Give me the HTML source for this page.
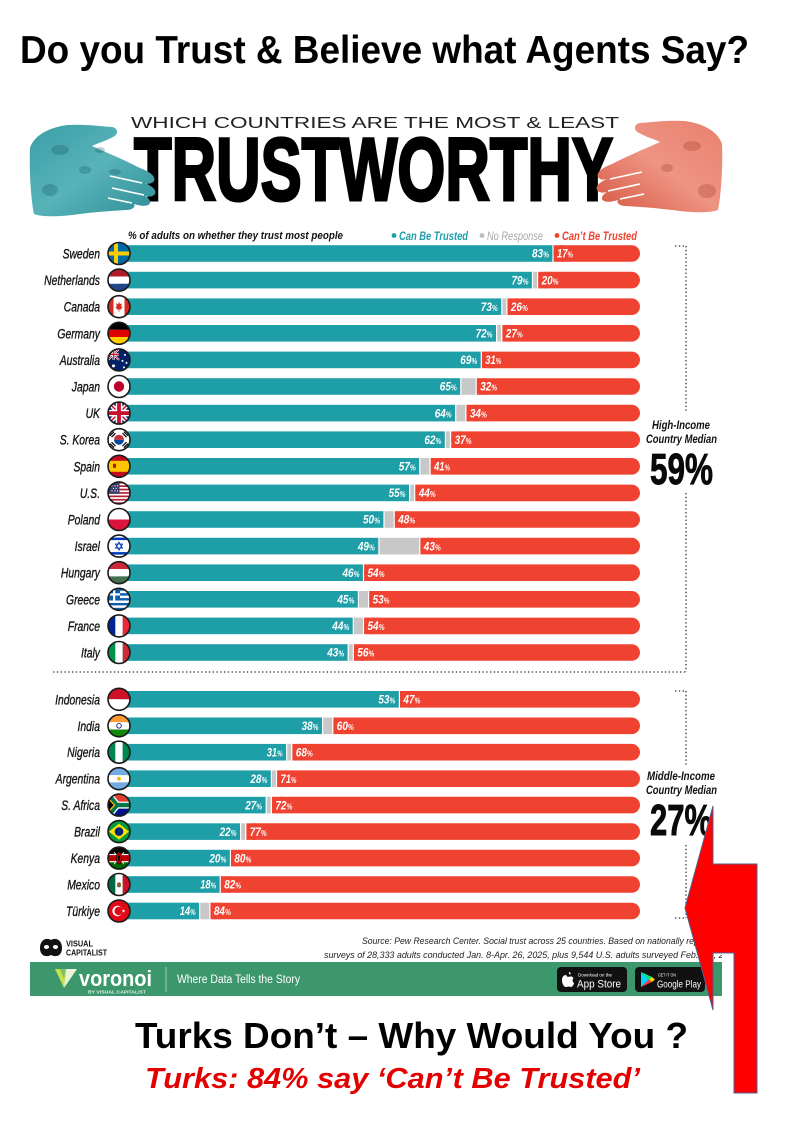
<!DOCTYPE html>
<html>
<head>
<meta charset="utf-8">
<style>
html,body{margin:0;padding:0;background:#fff;}
body{width:794px;height:1123px;overflow:hidden;}
svg{display:block;}
.t{fill:#1e9ea7}
.g{fill:#c8c8c8}
.r{fill:#ef4230}
.pl{font-family:"Liberation Sans",sans-serif;font-style:italic;font-weight:bold;font-size:12px;fill:#fff}
.cl{font-family:"Liberation Sans",sans-serif;font-style:italic;font-size:14px;fill:#151515;stroke:#151515;stroke-width:0.35}
.ol{fill:none;stroke:#1a1a1a;stroke-width:1.6}
.dot{fill:none;stroke:#333;stroke-width:1.3;stroke-dasharray:1.4 2.4}
.med{font-family:"Liberation Sans",sans-serif;font-style:italic;font-weight:bold;font-size:12px;fill:#111}
.big{font-family:"Liberation Sans",sans-serif;font-weight:bold;font-size:44px;fill:#0a0a0a;stroke:#0a0a0a;stroke-width:0.9}
</style>
</head>
<body>
<svg width="794" height="1123" viewBox="0 0 794 1123" xmlns="http://www.w3.org/2000/svg">
<defs>
  <clipPath id="cc"><circle r="11"/></clipPath>
  <clipPath id="ig"><rect x="0" y="0" width="722" height="1123"/></clipPath>
  <linearGradient id="tg" x1="0" y1="0" x2="1" y2="1">
    <stop offset="0" stop-color="#3b9ea6"/><stop offset="0.5" stop-color="#58b3b9"/><stop offset="1" stop-color="#2e8d95"/>
  </linearGradient>
  <linearGradient id="rg" x1="0" y1="0" x2="1" y2="1">
    <stop offset="0" stop-color="#e9806d"/><stop offset="0.5" stop-color="#ee9483"/><stop offset="1" stop-color="#d55641"/>
  </linearGradient>
  <g id="hand">
    <path d="M30,148 C34,135 50,127 68,125 C82,124 100,126 112,127 C118,128 119,134 113,137 C106,141 98,143 92,146 C105,152 125,160 140,168 C150,172 156,176 154,181 C152,184 148,184 145,183 C152,186 157,190 155,194 C153,197 148,197 145,196 C150,199 152,203 148,205 C143,207 138,205 134,204 C136,207 132,210 126,210 C110,211 95,212 80,214 C65,216 45,218 34,214 C31,200 29,170 30,148 Z"/>
    <path d="M110,176 L142,183 M112,188 L144,195 M108,198 L132,203" stroke="#fff" stroke-width="1.6" fill="none"/>
  </g>

  <g id="f-se" clip-path="url(#cc)"><rect x="-11" y="-11" width="22" height="22" fill="#006aa7"/><rect x="-5" y="-11" width="4" height="22" fill="#fecc00"/><rect x="-11" y="-2" width="22" height="4" fill="#fecc00"/></g>
  <g id="f-nl" clip-path="url(#cc)"><rect x="-11" y="-11" width="22" height="7.4" fill="#ae1c28"/><rect x="-11" y="-3.6" width="22" height="7.3" fill="#fff"/><rect x="-11" y="3.7" width="22" height="7.3" fill="#21468b"/></g>
  <g id="f-ca" clip-path="url(#cc)"><rect x="-11" y="-11" width="22" height="22" fill="#fff"/><rect x="-11" y="-11" width="5.5" height="22" fill="#d52b1e"/><rect x="5.5" y="-11" width="5.5" height="22" fill="#d52b1e"/><polygon points="0,-5 1,-2.5 3,-3.5 2.2,0 4,0 2,2 2.5,3 0.4,2.6 0.4,5 -0.4,5 -0.4,2.6 -2.5,3 -2,2 -4,0 -2.2,0 -3,-3.5 -1,-2.5" fill="#d52b1e"/></g>
  <g id="f-de" clip-path="url(#cc)"><rect x="-11" y="-11" width="22" height="7.4" fill="#000"/><rect x="-11" y="-3.6" width="22" height="7.3" fill="#dd0000"/><rect x="-11" y="3.7" width="22" height="7.3" fill="#ffce00"/></g>
  <g id="f-au" clip-path="url(#cc)"><rect x="-11" y="-11" width="22" height="22" fill="#012169"/><path d="M-11,-11 L0,0 M0,-11 L-11,0" stroke="#fff" stroke-width="2"/><path d="M-11,-11 L0,0 M0,-11 L-11,0" stroke="#c8102e" stroke-width="0.8"/><rect x="-6.5" y="-11" width="2.4" height="11" fill="#fff"/><rect x="-11" y="-6.7" width="11" height="2.4" fill="#fff"/><rect x="-5.9" y="-11" width="1.2" height="11" fill="#c8102e"/><rect x="-11" y="-6.1" width="11" height="1.2" fill="#c8102e"/><circle cx="-5.5" cy="6" r="1.5" fill="#fff"/><circle cx="6" cy="-5" r="1" fill="#fff"/><circle cx="3.5" cy="1" r="1" fill="#fff"/><circle cx="7.5" cy="3" r="1" fill="#fff"/><circle cx="5" cy="7.5" r="1" fill="#fff"/></g>
  <g id="f-jp" clip-path="url(#cc)"><rect x="-11" y="-11" width="22" height="22" fill="#fff"/><circle r="5.2" fill="#bc002d"/></g>
  <g id="f-gb" clip-path="url(#cc)"><rect x="-11" y="-11" width="22" height="22" fill="#012169"/><path d="M-11,-11 L11,11 M11,-11 L-11,11" stroke="#fff" stroke-width="4.5"/><path d="M-11,-11 L11,11 M11,-11 L-11,11" stroke="#c8102e" stroke-width="1.5"/><rect x="-3.3" y="-11" width="6.6" height="22" fill="#fff"/><rect x="-11" y="-3.3" width="22" height="6.6" fill="#fff"/><rect x="-1.9" y="-11" width="3.8" height="22" fill="#c8102e"/><rect x="-11" y="-1.9" width="22" height="3.8" fill="#c8102e"/></g>
  <g id="f-kr" clip-path="url(#cc)"><rect x="-11" y="-11" width="22" height="22" fill="#fff"/><path d="M-5,0 A5,5 0 0 1 5,0 Z" fill="#cd2e3a"/><path d="M-5,0 A5,5 0 0 0 5,0 Z" fill="#0047a0"/><g stroke="#000" stroke-width="1.2"><path d="M-9,-4 L-5,-8 M-7.5,-2.5 L-3.5,-6.5"/><path d="M9,-4 L5,-8 M7.5,-2.5 L3.5,-6.5"/><path d="M-9,4 L-5,8 M-7.5,2.5 L-3.5,6.5"/><path d="M9,4 L5,8 M7.5,2.5 L3.5,6.5"/></g></g>
  <g id="f-es" clip-path="url(#cc)"><rect x="-11" y="-11" width="22" height="22" fill="#c60b1e"/><rect x="-11" y="-5.5" width="22" height="11" fill="#ffc400"/><rect x="-6" y="-2.5" width="3" height="4" fill="#ad1519"/></g>
  <g id="f-us" clip-path="url(#cc)"><rect x="-11" y="-11" width="22" height="22" fill="#fff"/><g fill="#b22234"><rect x="-11" y="-11" width="22" height="1.7"/><rect x="-11" y="-7.6" width="22" height="1.7"/><rect x="-11" y="-4.2" width="22" height="1.7"/><rect x="-11" y="-0.8" width="22" height="1.7"/><rect x="-11" y="2.6" width="22" height="1.7"/><rect x="-11" y="6" width="22" height="1.7"/><rect x="-11" y="9.4" width="22" height="1.7"/></g><rect x="-11" y="-11" width="11.5" height="11.9" fill="#3c3b6e"/><g fill="#fff"><circle cx="-7" cy="-7" r="0.6"/><circle cx="-4" cy="-7" r="0.6"/><circle cx="-1.5" cy="-7" r="0.6"/><circle cx="-5.5" cy="-4.5" r="0.6"/><circle cx="-2.8" cy="-4.5" r="0.6"/><circle cx="-7" cy="-2" r="0.6"/><circle cx="-4" cy="-2" r="0.6"/><circle cx="-1.5" cy="-2" r="0.6"/></g></g>
  <g id="f-pl" clip-path="url(#cc)"><rect x="-11" y="-11" width="22" height="11" fill="#fff"/><rect x="-11" y="0" width="22" height="11" fill="#dc143c"/></g>
  <g id="f-il" clip-path="url(#cc)"><rect x="-11" y="-11" width="22" height="22" fill="#fff"/><rect x="-11" y="-8.5" width="22" height="2.5" fill="#0038b8"/><rect x="-11" y="6" width="22" height="2.5" fill="#0038b8"/><polygon points="0,-4 3.5,2 -3.5,2" fill="none" stroke="#0038b8" stroke-width="0.9"/><polygon points="0,4 3.5,-2 -3.5,-2" fill="none" stroke="#0038b8" stroke-width="0.9"/></g>
  <g id="f-hu" clip-path="url(#cc)"><rect x="-11" y="-11" width="22" height="7.4" fill="#ce2939"/><rect x="-11" y="-3.6" width="22" height="7.3" fill="#fff"/><rect x="-11" y="3.7" width="22" height="7.3" fill="#477050"/></g>
  <g id="f-gr" clip-path="url(#cc)"><rect x="-11" y="-11" width="22" height="22" fill="#0d5eaf"/><g fill="#fff"><rect x="-11" y="-8.56" width="22" height="2.44"/><rect x="-11" y="-3.67" width="22" height="2.44"/><rect x="-11" y="1.22" width="22" height="2.44"/><rect x="-11" y="6.11" width="22" height="2.44"/></g><rect x="-11" y="-11" width="12" height="12.2" fill="#0d5eaf"/><rect x="-6" y="-11" width="2.2" height="12.2" fill="#fff"/><rect x="-11" y="-6" width="12" height="2.2" fill="#fff"/></g>
  <g id="f-fr" clip-path="url(#cc)"><rect x="-11" y="-11" width="7.4" height="22" fill="#002395"/><rect x="-3.6" y="-11" width="7.3" height="22" fill="#fff"/><rect x="3.7" y="-11" width="7.3" height="22" fill="#ed2939"/></g>
  <g id="f-it" clip-path="url(#cc)"><rect x="-11" y="-11" width="7.4" height="22" fill="#009246"/><rect x="-3.6" y="-11" width="7.3" height="22" fill="#fff"/><rect x="3.7" y="-11" width="7.3" height="22" fill="#ce2b37"/></g>
  <g id="f-id" clip-path="url(#cc)"><rect x="-11" y="-11" width="22" height="11" fill="#ce1126"/><rect x="-11" y="0" width="22" height="11" fill="#fff"/></g>
  <g id="f-in" clip-path="url(#cc)"><rect x="-11" y="-11" width="22" height="7.4" fill="#ff9933"/><rect x="-11" y="-3.6" width="22" height="7.3" fill="#fff"/><rect x="-11" y="3.7" width="22" height="7.3" fill="#138808"/><circle r="2.3" fill="none" stroke="#000080" stroke-width="0.8"/></g>
  <g id="f-ng" clip-path="url(#cc)"><rect x="-11" y="-11" width="7.4" height="22" fill="#008751"/><rect x="-3.6" y="-11" width="7.3" height="22" fill="#fff"/><rect x="3.7" y="-11" width="7.3" height="22" fill="#008751"/></g>
  <g id="f-ar" clip-path="url(#cc)"><rect x="-11" y="-11" width="22" height="7.4" fill="#74acdf"/><rect x="-11" y="-3.6" width="22" height="7.3" fill="#fff"/><rect x="-11" y="3.7" width="22" height="7.3" fill="#74acdf"/><circle r="1.9" fill="#f6b40e"/></g>
  <g id="f-za" clip-path="url(#cc)"><rect x="-11" y="-11" width="22" height="11" fill="#e03c31"/><rect x="-11" y="0" width="22" height="11" fill="#001489"/><path d="M-11,-11 L-2,0 L11,0 M-11,11 L-2,0" stroke="#fff" stroke-width="7" fill="none"/><path d="M-11,-11 L-2,0 L11,0 M-11,11 L-2,0" stroke="#007749" stroke-width="4.4" fill="none"/><polygon points="-11,-7 -4.5,0 -11,7" fill="#000" stroke="#ffb612" stroke-width="1.3"/></g>
  <g id="f-br" clip-path="url(#cc)"><rect x="-11" y="-11" width="22" height="22" fill="#009c3b"/><polygon points="0,-8 10,0 0,8 -10,0" fill="#ffdf00"/><circle r="4.3" fill="#002776"/></g>
  <g id="f-ke" clip-path="url(#cc)"><rect x="-11" y="-11" width="22" height="22" fill="#006600"/><rect x="-11" y="-11" width="22" height="6.8" fill="#000"/><rect x="-11" y="-4.2" width="22" height="8.4" fill="#fff"/><rect x="-11" y="-3" width="22" height="6" fill="#bb0000"/><path d="M-5,-6 L5,6 M5,-6 L-5,6" stroke="#fff" stroke-width="0.8"/><ellipse rx="2.8" ry="6" fill="#bb0000" stroke="#000" stroke-width="0.6"/><ellipse rx="1" ry="3" fill="#000"/></g>
  <g id="f-mx" clip-path="url(#cc)"><rect x="-11" y="-11" width="7.4" height="22" fill="#006847"/><rect x="-3.6" y="-11" width="7.3" height="22" fill="#fff"/><rect x="3.7" y="-11" width="7.3" height="22" fill="#ce1126"/><circle r="2.1" fill="#8b5a2b"/><path d="M-2,1.5 Q0,3.5 2,1.5" stroke="#2e7d32" stroke-width="0.7" fill="none"/></g>
  <g id="f-tr" clip-path="url(#cc)"><rect x="-11" y="-11" width="22" height="22" fill="#e30a17"/><circle cx="-1.5" cy="0" r="5.2" fill="#fff"/><circle cx="-0.3" cy="0" r="4.2" fill="#e30a17"/><polygon points="4.5,-2 4.97,-0.65 6.4,-0.62 5.26,0.25 5.68,1.62 4.5,0.8 3.32,1.62 3.74,0.25 2.6,-0.62 4.03,-0.65" fill="#fff"/></g>
</defs>

<rect x="0" y="0" width="794" height="1123" fill="#fff"/>

<!-- Main title -->
<text x="20" y="63" font-family="Liberation Sans, Arial, sans-serif" font-weight="bold" font-size="38.5" fill="#000" textLength="729" lengthAdjust="spacingAndGlyphs">Do you Trust &amp; Believe what Agents Say?</text>

<!-- Infographic header -->
<text x="131" y="128" font-family="Liberation Sans, sans-serif" font-size="16" fill="#222" textLength="488" lengthAdjust="spacingAndGlyphs">WHICH COUNTRIES ARE THE MOST &amp; LEAST</text>
<text x="134" y="200" font-family="Liberation Sans, sans-serif" font-weight="bold" font-size="89" fill="#000" stroke="#000" stroke-width="3" stroke-linejoin="miter" textLength="479" lengthAdjust="spacingAndGlyphs">TRUSTWORTHY</text>

<use href="#hand" fill="url(#tg)"/>
<g opacity="0.25" fill="#0c4b52">
  <ellipse cx="60" cy="150" rx="9" ry="5"/><ellipse cx="85" cy="170" rx="6" ry="4"/><ellipse cx="50" cy="190" rx="8" ry="6"/><ellipse cx="100" cy="150" rx="5" ry="3"/><ellipse cx="115" cy="172" rx="6" ry="3"/>
</g>
<g transform="translate(752,-4) scale(-1,1)">
  <use href="#hand" fill="url(#rg)"/>
  <g opacity="0.22" fill="#8a1d10">
    <ellipse cx="60" cy="150" rx="9" ry="5"/><ellipse cx="85" cy="172" rx="6" ry="4"/><ellipse cx="45" cy="195" rx="9" ry="7"/>
  </g>
</g>

<!-- Subtitle & legend -->
<text x="128" y="239" font-family="Liberation Sans, sans-serif" font-style="italic" font-weight="bold" font-size="11" fill="#111" textLength="215" lengthAdjust="spacingAndGlyphs">% of adults on whether they trust most people</text>
<circle cx="394" cy="235.5" r="2.4" fill="#1e9ea7"/>
<text x="399" y="240" font-family="Liberation Sans, sans-serif" font-style="italic" font-weight="bold" font-size="12" fill="#1e9ea7" textLength="69" lengthAdjust="spacingAndGlyphs">Can Be Trusted</text>
<circle cx="482" cy="235.5" r="2.4" fill="#bdbdbd"/>
<text x="487" y="240" font-family="Liberation Sans, sans-serif" font-style="italic" font-size="12" fill="#a8a8a8" textLength="56" lengthAdjust="spacingAndGlyphs">No Response</text>
<circle cx="557" cy="235.5" r="2.4" fill="#ef4230"/>
<text x="562" y="240" font-family="Liberation Sans, sans-serif" font-style="italic" font-weight="bold" font-size="12" fill="#ef4230" textLength="75" lengthAdjust="spacingAndGlyphs">Can’t Be Trusted</text>

<!-- Bars: high income -->
<g>
<rect class="t" x="118" y="245.2" width="434.4" height="16.6"/><rect class="r" x="553.6" y="245.2" width="86.4" height="16.6" rx="8.3"/><rect class="r" x="553.6" y="245.2" width="10" height="16.6"/>
<rect class="t" x="118" y="271.8" width="413.9" height="16.6"/><rect class="g" x="533.1" y="271.8" width="3.9" height="16.6"/><rect class="r" x="538.2" y="271.8" width="101.8" height="16.6" rx="8.3"/><rect class="r" x="538.2" y="271.8" width="10" height="16.6"/>
<rect class="t" x="118" y="298.4" width="383.2" height="16.6"/><rect class="g" x="502.4" y="298.4" width="3.9" height="16.6"/><rect class="r" x="507.5" y="298.4" width="132.5" height="16.6" rx="8.3"/><rect class="r" x="507.5" y="298.4" width="10" height="16.6"/>
<rect class="t" x="118" y="325" width="378" height="16.6"/><rect class="g" x="497.2" y="325" width="3.9" height="16.6"/><rect class="r" x="502.4" y="325" width="137.6" height="16.6" rx="8.3"/><rect class="r" x="502.4" y="325" width="10" height="16.6"/>
<rect class="t" x="118" y="351.6" width="362.7" height="16.6"/><rect class="r" x="481.9" y="351.6" width="158.1" height="16.6" rx="8.3"/><rect class="r" x="481.9" y="351.6" width="10" height="16.6"/>
<rect class="t" x="118" y="378.2" width="342.2" height="16.6"/><rect class="g" x="461.4" y="378.2" width="14.2" height="16.6"/><rect class="r" x="476.8" y="378.2" width="163.2" height="16.6" rx="8.3"/><rect class="r" x="476.8" y="378.2" width="10" height="16.6"/>
<rect class="t" x="118" y="404.8" width="337.1" height="16.6"/><rect class="g" x="456.3" y="404.8" width="9" height="16.6"/><rect class="r" x="466.5" y="404.8" width="173.5" height="16.6" rx="8.3"/><rect class="r" x="466.5" y="404.8" width="10" height="16.6"/>
<rect class="t" x="118" y="431.4" width="326.8" height="16.6"/><rect class="g" x="446" y="431.4" width="3.9" height="16.6"/><rect class="r" x="451.2" y="431.4" width="188.8" height="16.6" rx="8.3"/><rect class="r" x="451.2" y="431.4" width="10" height="16.6"/>
<rect class="t" x="118" y="458" width="301.2" height="16.6"/><rect class="g" x="420.4" y="458" width="9" height="16.6"/><rect class="r" x="430.7" y="458" width="209.3" height="16.6" rx="8.3"/><rect class="r" x="430.7" y="458" width="10" height="16.6"/>
<rect class="t" x="118" y="484.6" width="291" height="16.6"/><rect class="g" x="410.2" y="484.6" width="3.9" height="16.6"/><rect class="r" x="415.3" y="484.6" width="224.7" height="16.6" rx="8.3"/><rect class="r" x="415.3" y="484.6" width="10" height="16.6"/>
<rect class="t" x="118" y="511.2" width="265.4" height="16.6"/><rect class="g" x="384.6" y="511.2" width="9" height="16.6"/><rect class="r" x="394.8" y="511.2" width="245.2" height="16.6" rx="8.3"/><rect class="r" x="394.8" y="511.2" width="10" height="16.6"/>
<rect class="t" x="118" y="537.8" width="260.3" height="16.6"/><rect class="g" x="379.5" y="537.8" width="39.7" height="16.6"/><rect class="r" x="420.4" y="537.8" width="219.6" height="16.6" rx="8.3"/><rect class="r" x="420.4" y="537.8" width="10" height="16.6"/>
<rect class="t" x="118" y="564.4" width="244.9" height="16.6"/><rect class="r" x="364.1" y="564.4" width="275.9" height="16.6" rx="8.3"/><rect class="r" x="364.1" y="564.4" width="10" height="16.6"/>
<rect class="t" x="118" y="591" width="239.8" height="16.6"/><rect class="g" x="359" y="591" width="9" height="16.6"/><rect class="r" x="369.2" y="591" width="270.8" height="16.6" rx="8.3"/><rect class="r" x="369.2" y="591" width="10" height="16.6"/>
<rect class="t" x="118" y="617.6" width="234.7" height="16.6"/><rect class="g" x="353.9" y="617.6" width="9" height="16.6"/><rect class="r" x="364.1" y="617.6" width="275.9" height="16.6" rx="8.3"/><rect class="r" x="364.1" y="617.6" width="10" height="16.6"/>
<rect class="t" x="118" y="644.2" width="229.6" height="16.6"/><rect class="g" x="348.8" y="644.2" width="3.9" height="16.6"/><rect class="r" x="353.9" y="644.2" width="286.1" height="16.6" rx="8.3"/><rect class="r" x="353.9" y="644.2" width="10" height="16.6"/>
</g>

<!-- Bars: middle income -->
<g>
<rect class="t" x="118" y="691" width="280.8" height="16.6"/><rect class="r" x="400" y="691" width="240" height="16.6" rx="8.3"/><rect class="r" x="400" y="691" width="10" height="16.6"/>
<rect class="t" x="118" y="717.5" width="204" height="16.6"/><rect class="g" x="323.2" y="717.5" width="9" height="16.6"/><rect class="r" x="333.4" y="717.5" width="306.6" height="16.6" rx="8.3"/><rect class="r" x="333.4" y="717.5" width="10" height="16.6"/>
<rect class="t" x="118" y="743.9" width="168.1" height="16.6"/><rect class="g" x="287.3" y="743.9" width="3.9" height="16.6"/><rect class="r" x="292.4" y="743.9" width="347.6" height="16.6" rx="8.3"/><rect class="r" x="292.4" y="743.9" width="10" height="16.6"/>
<rect class="t" x="118" y="770.4" width="152.8" height="16.6"/><rect class="g" x="272" y="770.4" width="3.9" height="16.6"/><rect class="r" x="277.1" y="770.4" width="362.9" height="16.6" rx="8.3"/><rect class="r" x="277.1" y="770.4" width="10" height="16.6"/>
<rect class="t" x="118" y="796.8" width="147.6" height="16.6"/><rect class="g" x="266.8" y="796.8" width="3.9" height="16.6"/><rect class="r" x="272" y="796.8" width="368" height="16.6" rx="8.3"/><rect class="r" x="272" y="796.8" width="10" height="16.6"/>
<rect class="t" x="118" y="823.3" width="122" height="16.6"/><rect class="g" x="241.2" y="823.3" width="3.9" height="16.6"/><rect class="r" x="246.4" y="823.3" width="393.6" height="16.6" rx="8.3"/><rect class="r" x="246.4" y="823.3" width="10" height="16.6"/>
<rect class="t" x="118" y="849.8" width="111.8" height="16.6"/><rect class="r" x="231" y="849.8" width="409" height="16.6" rx="8.3"/><rect class="r" x="231" y="849.8" width="10" height="16.6"/>
<rect class="t" x="118" y="876.2" width="101.6" height="16.6"/><rect class="r" x="220.8" y="876.2" width="419.2" height="16.6" rx="8.3"/><rect class="r" x="220.8" y="876.2" width="10" height="16.6"/>
<rect class="t" x="118" y="902.7" width="81.1" height="16.6"/><rect class="g" x="200.3" y="902.7" width="9" height="16.6"/><rect class="r" x="210.5" y="902.7" width="429.5" height="16.6" rx="8.3"/><rect class="r" x="210.5" y="902.7" width="10" height="16.6"/>
</g>

<!-- Percent labels -->
<g class="pl">
<text x="549" y="257.7" text-anchor="end" textLength="17" lengthAdjust="spacingAndGlyphs">83<tspan font-size="8">%</tspan></text><text x="557" y="257.7" textLength="16" lengthAdjust="spacingAndGlyphs">17<tspan font-size="8">%</tspan></text>
<text x="528.5" y="284.3" text-anchor="end" textLength="17" lengthAdjust="spacingAndGlyphs">79<tspan font-size="8">%</tspan></text><text x="541.6" y="284.3" textLength="17" lengthAdjust="spacingAndGlyphs">20<tspan font-size="8">%</tspan></text>
<text x="497.8" y="310.9" text-anchor="end" textLength="17" lengthAdjust="spacingAndGlyphs">73<tspan font-size="8">%</tspan></text><text x="510.9" y="310.9" textLength="17" lengthAdjust="spacingAndGlyphs">26<tspan font-size="8">%</tspan></text>
<text x="492.6" y="337.5" text-anchor="end" textLength="17" lengthAdjust="spacingAndGlyphs">72<tspan font-size="8">%</tspan></text><text x="505.8" y="337.5" textLength="17" lengthAdjust="spacingAndGlyphs">27<tspan font-size="8">%</tspan></text>
<text x="477.3" y="364.1" text-anchor="end" textLength="17" lengthAdjust="spacingAndGlyphs">69<tspan font-size="8">%</tspan></text><text x="485.3" y="364.1" textLength="16" lengthAdjust="spacingAndGlyphs">31<tspan font-size="8">%</tspan></text>
<text x="456.8" y="390.7" text-anchor="end" textLength="17" lengthAdjust="spacingAndGlyphs">65<tspan font-size="8">%</tspan></text><text x="480.2" y="390.7" textLength="17" lengthAdjust="spacingAndGlyphs">32<tspan font-size="8">%</tspan></text>
<text x="451.7" y="417.3" text-anchor="end" textLength="17" lengthAdjust="spacingAndGlyphs">64<tspan font-size="8">%</tspan></text><text x="469.9" y="417.3" textLength="17" lengthAdjust="spacingAndGlyphs">34<tspan font-size="8">%</tspan></text>
<text x="441.4" y="443.9" text-anchor="end" textLength="17" lengthAdjust="spacingAndGlyphs">62<tspan font-size="8">%</tspan></text><text x="454.6" y="443.9" textLength="17" lengthAdjust="spacingAndGlyphs">37<tspan font-size="8">%</tspan></text>
<text x="415.8" y="470.5" text-anchor="end" textLength="17" lengthAdjust="spacingAndGlyphs">57<tspan font-size="8">%</tspan></text><text x="434.1" y="470.5" textLength="16" lengthAdjust="spacingAndGlyphs">41<tspan font-size="8">%</tspan></text>
<text x="405.6" y="497.1" text-anchor="end" textLength="17" lengthAdjust="spacingAndGlyphs">55<tspan font-size="8">%</tspan></text><text x="418.7" y="497.1" textLength="17" lengthAdjust="spacingAndGlyphs">44<tspan font-size="8">%</tspan></text>
<text x="380" y="523.7" text-anchor="end" textLength="17" lengthAdjust="spacingAndGlyphs">50<tspan font-size="8">%</tspan></text><text x="398.2" y="523.7" textLength="17" lengthAdjust="spacingAndGlyphs">48<tspan font-size="8">%</tspan></text>
<text x="374.9" y="550.3" text-anchor="end" textLength="17" lengthAdjust="spacingAndGlyphs">49<tspan font-size="8">%</tspan></text><text x="423.8" y="550.3" textLength="17" lengthAdjust="spacingAndGlyphs">43<tspan font-size="8">%</tspan></text>
<text x="359.5" y="576.9" text-anchor="end" textLength="17" lengthAdjust="spacingAndGlyphs">46<tspan font-size="8">%</tspan></text><text x="367.5" y="576.9" textLength="17" lengthAdjust="spacingAndGlyphs">54<tspan font-size="8">%</tspan></text>
<text x="354.4" y="603.5" text-anchor="end" textLength="17" lengthAdjust="spacingAndGlyphs">45<tspan font-size="8">%</tspan></text><text x="372.6" y="603.5" textLength="17" lengthAdjust="spacingAndGlyphs">53<tspan font-size="8">%</tspan></text>
<text x="349.3" y="630.1" text-anchor="end" textLength="17" lengthAdjust="spacingAndGlyphs">44<tspan font-size="8">%</tspan></text><text x="367.5" y="630.1" textLength="17" lengthAdjust="spacingAndGlyphs">54<tspan font-size="8">%</tspan></text>
<text x="344.2" y="656.7" text-anchor="end" textLength="17" lengthAdjust="spacingAndGlyphs">43<tspan font-size="8">%</tspan></text><text x="357.3" y="656.7" textLength="17" lengthAdjust="spacingAndGlyphs">56<tspan font-size="8">%</tspan></text>

<text x="395.4" y="703.5" text-anchor="end" textLength="17" lengthAdjust="spacingAndGlyphs">53<tspan font-size="8">%</tspan></text><text x="403.4" y="703.5" textLength="17" lengthAdjust="spacingAndGlyphs">47<tspan font-size="8">%</tspan></text>
<text x="318.6" y="730" text-anchor="end" textLength="17" lengthAdjust="spacingAndGlyphs">38<tspan font-size="8">%</tspan></text><text x="336.8" y="730" textLength="17" lengthAdjust="spacingAndGlyphs">60<tspan font-size="8">%</tspan></text>
<text x="282.7" y="756.4" text-anchor="end" textLength="16" lengthAdjust="spacingAndGlyphs">31<tspan font-size="8">%</tspan></text><text x="295.8" y="756.4" textLength="17" lengthAdjust="spacingAndGlyphs">68<tspan font-size="8">%</tspan></text>
<text x="267.4" y="782.9" text-anchor="end" textLength="17" lengthAdjust="spacingAndGlyphs">28<tspan font-size="8">%</tspan></text><text x="280.5" y="782.9" textLength="16" lengthAdjust="spacingAndGlyphs">71<tspan font-size="8">%</tspan></text>
<text x="262.2" y="809.3" text-anchor="end" textLength="17" lengthAdjust="spacingAndGlyphs">27<tspan font-size="8">%</tspan></text><text x="275.4" y="809.3" textLength="17" lengthAdjust="spacingAndGlyphs">72<tspan font-size="8">%</tspan></text>
<text x="236.6" y="835.8" text-anchor="end" textLength="17" lengthAdjust="spacingAndGlyphs">22<tspan font-size="8">%</tspan></text><text x="249.8" y="835.8" textLength="17" lengthAdjust="spacingAndGlyphs">77<tspan font-size="8">%</tspan></text>
<text x="226.4" y="862.3" text-anchor="end" textLength="17" lengthAdjust="spacingAndGlyphs">20<tspan font-size="8">%</tspan></text><text x="234.4" y="862.3" textLength="17" lengthAdjust="spacingAndGlyphs">80<tspan font-size="8">%</tspan></text>
<text x="216.2" y="888.7" text-anchor="end" textLength="16" lengthAdjust="spacingAndGlyphs">18<tspan font-size="8">%</tspan></text><text x="224.2" y="888.7" textLength="17" lengthAdjust="spacingAndGlyphs">82<tspan font-size="8">%</tspan></text>
<text x="195.7" y="915.2" text-anchor="end" textLength="16" lengthAdjust="spacingAndGlyphs">14<tspan font-size="8">%</tspan></text><text x="213.9" y="915.2" textLength="17" lengthAdjust="spacingAndGlyphs">84<tspan font-size="8">%</tspan></text>
</g>

<!-- Flags -->
<use href="#f-se" x="119" y="253.5"/><circle class="ol" cx="119" cy="253.5" r="11"/>
<use href="#f-nl" x="119" y="280.1"/><circle class="ol" cx="119" cy="280.1" r="11"/>
<use href="#f-ca" x="119" y="306.7"/><circle class="ol" cx="119" cy="306.7" r="11"/>
<use href="#f-de" x="119" y="333.3"/><circle class="ol" cx="119" cy="333.3" r="11"/>
<use href="#f-au" x="119" y="359.9"/><circle class="ol" cx="119" cy="359.9" r="11"/>
<use href="#f-jp" x="119" y="386.5"/><circle class="ol" cx="119" cy="386.5" r="11"/>
<use href="#f-gb" x="119" y="413.1"/><circle class="ol" cx="119" cy="413.1" r="11"/>
<use href="#f-kr" x="119" y="439.7"/><circle class="ol" cx="119" cy="439.7" r="11"/>
<use href="#f-es" x="119" y="466.3"/><circle class="ol" cx="119" cy="466.3" r="11"/>
<use href="#f-us" x="119" y="492.9"/><circle class="ol" cx="119" cy="492.9" r="11"/>
<use href="#f-pl" x="119" y="519.5"/><circle class="ol" cx="119" cy="519.5" r="11"/>
<use href="#f-il" x="119" y="546.1"/><circle class="ol" cx="119" cy="546.1" r="11"/>
<use href="#f-hu" x="119" y="572.7"/><circle class="ol" cx="119" cy="572.7" r="11"/>
<use href="#f-gr" x="119" y="599.3"/><circle class="ol" cx="119" cy="599.3" r="11"/>
<use href="#f-fr" x="119" y="625.9"/><circle class="ol" cx="119" cy="625.9" r="11"/>
<use href="#f-it" x="119" y="652.5"/><circle class="ol" cx="119" cy="652.5" r="11"/>
<use href="#f-id" x="119" y="699.3"/><circle class="ol" cx="119" cy="699.3" r="11"/>
<use href="#f-in" x="119" y="725.8"/><circle class="ol" cx="119" cy="725.8" r="11"/>
<use href="#f-ng" x="119" y="752.2"/><circle class="ol" cx="119" cy="752.2" r="11"/>
<use href="#f-ar" x="119" y="778.7"/><circle class="ol" cx="119" cy="778.7" r="11"/>
<use href="#f-za" x="119" y="805.1"/><circle class="ol" cx="119" cy="805.1" r="11"/>
<use href="#f-br" x="119" y="831.6"/><circle class="ol" cx="119" cy="831.6" r="11"/>
<use href="#f-ke" x="119" y="858.1"/><circle class="ol" cx="119" cy="858.1" r="11"/>
<use href="#f-mx" x="119" y="884.5"/><circle class="ol" cx="119" cy="884.5" r="11"/>
<use href="#f-tr" x="119" y="911"/><circle class="ol" cx="119" cy="911" r="11"/>

<!-- Country labels -->
<g transform="scale(0.74,1)" class="cl" text-anchor="end">
<text x="135.1" y="258.5">Sweden</text>
<text x="135.1" y="285.1">Netherlands</text>
<text x="135.1" y="311.7">Canada</text>
<text x="135.1" y="338.3">Germany</text>
<text x="135.1" y="364.9">Australia</text>
<text x="135.1" y="391.5">Japan</text>
<text x="135.1" y="418.1">UK</text>
<text x="135.1" y="444.7">S. Korea</text>
<text x="135.1" y="471.3">Spain</text>
<text x="135.1" y="497.9">U.S.</text>
<text x="135.1" y="524.5">Poland</text>
<text x="135.1" y="551.1">Israel</text>
<text x="135.1" y="577.7">Hungary</text>
<text x="135.1" y="604.3">Greece</text>
<text x="135.1" y="630.9">France</text>
<text x="135.1" y="657.5">Italy</text>
<text x="135.1" y="704.3">Indonesia</text>
<text x="135.1" y="730.8">India</text>
<text x="135.1" y="757.2">Nigeria</text>
<text x="135.1" y="783.7">Argentina</text>
<text x="135.1" y="810.1">S. Africa</text>
<text x="135.1" y="836.6">Brazil</text>
<text x="135.1" y="863.1">Kenya</text>
<text x="135.1" y="889.5">Mexico</text>
<text x="135.1" y="916">Türkiye</text>
</g>

<!-- Dotted brackets -->
<path class="dot" d="M675,246 L686,246 M686,246 L686,412 M686,493 L686,672 M53,672 L686,672"/>
<path class="dot" d="M675,691 L686,691 M686,691 L686,767 M686,845 L686,918 M675,918 L686,918"/>

<!-- Medians -->
<text class="med" x="652" y="429" textLength="58" lengthAdjust="spacingAndGlyphs">High-Income</text>
<text class="med" x="646" y="443" textLength="71" lengthAdjust="spacingAndGlyphs">Country Median</text>
<text class="big" x="650" y="484" textLength="63" lengthAdjust="spacingAndGlyphs">59%</text>
<text class="med" x="647" y="780" textLength="68" lengthAdjust="spacingAndGlyphs">Middle-Income</text>
<text class="med" x="646" y="794" textLength="71" lengthAdjust="spacingAndGlyphs">Country Median</text>
<text class="big" x="650" y="835" textLength="62" lengthAdjust="spacingAndGlyphs">27%</text>

<!-- Footer -->
<g clip-path="url(#ig)">
  <path d="M40,948 C40,940 46,937 51,940 C56,937 62,940 62,948 C62,955 57,958 51,955 C45,958 40,955 40,948 Z" fill="#111"/>
  <ellipse cx="46.5" cy="947" rx="2.6" ry="2" fill="#fff"/><ellipse cx="55.5" cy="947" rx="2.6" ry="2" fill="#fff"/>
  <text x="66" y="946.5" font-family="Liberation Sans, sans-serif" font-weight="bold" font-size="8" fill="#111" textLength="27" lengthAdjust="spacingAndGlyphs">VISUAL</text>
  <text x="66" y="955.5" font-family="Liberation Sans, sans-serif" font-weight="bold" font-size="8" fill="#111" textLength="41" lengthAdjust="spacingAndGlyphs">CAPITALIST</text>
  <text x="362" y="944" font-family="Liberation Sans, sans-serif" font-style="italic" font-size="9.5" fill="#222" textLength="379" lengthAdjust="spacingAndGlyphs">Source: Pew Research Center. Social trust across 25 countries. Based on nationally representative</text>
  <text x="324" y="958" font-family="Liberation Sans, sans-serif" font-style="italic" font-size="9.5" fill="#222" textLength="417" lengthAdjust="spacingAndGlyphs">surveys of 28,333 adults conducted Jan. 8-Apr. 26, 2025, plus 9,544 U.S. adults surveyed Feb. 3-9, 2025.</text>

  <rect x="30" y="962" width="692" height="34" fill="#3d976d"/>
  <polygon points="55,969 66,969 64,988" fill="#c9e04b"/>
  <polygon points="66,969 77,969 64,988" fill="#e9f4d3"/>
  <polygon points="60,969 66,969 64,979" fill="#7cc36a"/>
  <text x="79" y="986" font-family="Liberation Sans, sans-serif" font-weight="bold" font-size="22" fill="#fff" textLength="73" lengthAdjust="spacingAndGlyphs">voronoi</text>
  <text x="88" y="993.5" font-family="Liberation Sans, sans-serif" font-weight="bold" font-size="4.5" fill="#e6f2ea" textLength="58" lengthAdjust="spacingAndGlyphs">BY VISUAL CAPITALIST</text>
  <rect x="165.5" y="967" width="1" height="25" fill="#9fcdb5"/>
  <text x="177" y="983" font-family="Liberation Sans, sans-serif" font-size="11.5" fill="#fff" textLength="123" lengthAdjust="spacingAndGlyphs">Where Data Tells the Story</text>

  <rect x="557" y="967" width="70" height="25" rx="4" fill="#111"/>
  <path d="M566,975 C563,975 562,978 562,980 C562,984 564,987 566,987 C567,987 567.5,986.5 568.5,986.5 C569.5,986.5 570,987 571,987 C572.5,987 574,984 574,983 C572.5,982 572,980 573.5,978 C572.5,976.5 571,976 570,976.5 C569,977 568,977 567,976.5 C566.8,976 566.5,975.5 566,975 Z M569,972 C570,972 571,973 570.5,974.5 C569.5,974.5 568.5,973.5 569,972 Z" fill="#fff"/>
  <text x="578" y="976.5" font-family="Liberation Sans, sans-serif" font-size="4.8" fill="#fff" textLength="34" lengthAdjust="spacingAndGlyphs">Download on the</text>
  <text x="577" y="987.5" font-family="Liberation Sans, sans-serif" font-size="11" fill="#fff" textLength="44" lengthAdjust="spacingAndGlyphs">App Store</text>

  <rect x="635" y="967" width="70" height="25" rx="4" fill="#111"/>
  <polygon points="641,972 641,987 649,979.5" fill="#00d7fe"/>
  <polygon points="641,972 649,979.5 652,977" fill="#00f076"/>
  <polygon points="641,987 649,979.5 652,982" fill="#ff3a44"/>
  <polygon points="649,979.5 652,977 655,979.5 652,982" fill="#ffd500"/>
  <text x="658" y="976.5" font-family="Liberation Sans, sans-serif" font-size="4.8" fill="#fff" textLength="18" lengthAdjust="spacingAndGlyphs">GET IT ON</text>
  <text x="657" y="987.5" font-family="Liberation Sans, sans-serif" font-size="10.5" fill="#fff" textLength="44" lengthAdjust="spacingAndGlyphs">Google Play</text>
</g>

<!-- Bottom captions -->
<text x="135" y="1048" font-family="Liberation Sans, Arial, sans-serif" font-weight="bold" font-size="36" fill="#000" textLength="553" lengthAdjust="spacingAndGlyphs">Turks Don’t – Why Would You ?</text>
<text x="145" y="1088" font-family="Liberation Sans, Arial, sans-serif" font-weight="bold" font-style="italic" font-size="29" fill="#e40000" textLength="495" lengthAdjust="spacingAndGlyphs">Turks: 84% say ‘Can’t Be Trusted’</text>

<!-- Red arrow -->
<polygon points="713,806 713,864 757,864 757,1093 734,1093 734,953 713,953 713,1010 685,908" fill="#ff0000" stroke="#4f5f8f" stroke-width="1"/>
</svg>
</body>
</html>
